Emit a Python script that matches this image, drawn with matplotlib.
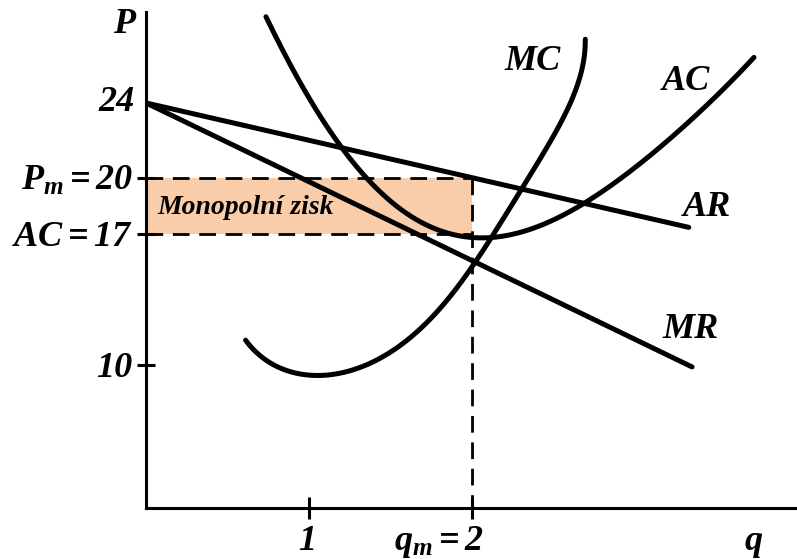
import numpy as np
import matplotlib
matplotlib.use("Agg")
import matplotlib.pyplot as plt
import matplotlib.transforms as mtransforms

plt.rcParams['font.family'] = ['Liberation Serif', 'DejaVu Serif']
plt.rcParams['font.style'] = 'italic'
plt.rcParams['font.weight'] = 'bold'
plt.rcParams['mathtext.fontset'] = 'custom'
plt.rcParams['mathtext.rm'] = 'Liberation Serif:italic:bold'
plt.rcParams['mathtext.it'] = 'Liberation Serif:italic:bold'
plt.rcParams['mathtext.bf'] = 'Liberation Serif:italic:bold'

# --- data ---
ar_q = [0.0, 3.33]
ar_p = [24.0, 17.35]

mr_q = [0.0, 3.35]
mr_p = [24.0, 9.89]

mc_q = [0.613, 0.712, 0.816, 0.920, 1.061, 1.227, 1.368, 1.534, 1.693, 1.840,
        2.0, 2.104, 2.209, 2.307, 2.411, 2.515, 2.595, 2.656, 2.699]
mc_p = [11.23, 10.53, 9.89, 9.57, 9.40, 9.57, 10.0, 10.80, 12.03, 13.47,
        15.45, 16.68, 17.91, 19.35, 20.79, 22.40, 24.0, 25.39, 27.37]

ac_q = [0.736, 0.834, 0.939, 1.043, 1.141, 1.227, 1.350, 1.491, 1.632, 1.963,
        2.135, 2.368, 2.534, 2.718, 2.945, 3.147, 3.350, 3.558, 3.730]
ac_p = [28.60, 26.83, 25.23, 23.63, 22.40, 21.49, 20.04, 18.66, 17.59, 17.05,
        16.95, 17.32, 17.91, 18.66, 20.04, 21.65, 23.25, 24.86, 26.41]

q_m = 2
p_m = 20
ac_m = 17
y_ticks = [10, 17, 20]
y_tick_labels = ["10", "$AC = 17$", "$P_m = 20$"]
x_ticks = [1, 2]


def smooth_param(xs, ys, deg=5, n=300):
    # smooth parametric fit through the read points (chord-length parameter)
    xs, ys = np.asarray(xs), np.asarray(ys)
    d = np.hypot(np.diff(xs) * 163, np.diff(ys) * 18.7)
    t = np.concatenate([[0], np.cumsum(d)])
    t = t / t[-1]
    tt = np.linspace(0, 1, n)
    return np.polyval(np.polyfit(t, xs, deg), tt), np.polyval(np.polyfit(t, ys, deg), tt)


def smooth_fn(xs, ys, deg=5, n=300):
    xx = np.linspace(xs[0], xs[-1], n)
    return xx, np.polyval(np.polyfit(xs, ys, deg), xx)


fig = plt.figure(figsize=(7.97, 5.59), dpi=100)
ax = fig.add_axes([146 / 797, 51 / 559, 651 / 797, 496 / 559])
ax.set_xlim(0, 3.994)
ax.set_ylim(2.35, 28.86)

for s in ["top", "right"]:
    ax.spines[s].set_visible(False)
for s in ["left", "bottom"]:
    ax.spines[s].set_linewidth(2.2)

# monopoly profit rectangle
ax.fill_between([0, q_m], ac_m, p_m, color="#F9CDAA", lw=0, zorder=1)

dash = dict(color="black", lw=2.0, dashes=(6, 3.5), zorder=2)
ax.plot([0, q_m], [p_m, p_m], **dash)
ax.plot([0, q_m], [ac_m, ac_m], **dash)
ax.plot([q_m, q_m], [p_m, 2.35], **dash, clip_on=False)

lw = 3.6
ax.plot(ar_q, ar_p, color="black", lw=lw, solid_capstyle="round", zorder=3)
ax.plot(mr_q, mr_p, color="black", lw=lw, solid_capstyle="round", zorder=3)
x, y = smooth_param(mc_q, mc_p)
ax.plot(x, y, color="black", lw=lw, solid_capstyle="round", zorder=3, clip_on=False)
x, y = smooth_fn(ac_q, ac_p)
ax.plot(x, y, color="black", lw=lw, solid_capstyle="round", zorder=3, clip_on=False)

# ticks
ax.set_yticks(y_ticks)
ax.set_yticklabels(y_tick_labels)
ax.set_xticks(x_ticks)
ax.set_xticklabels([])
ax.tick_params(axis="y", direction="inout", length=13, width=2.2, pad=3, labelsize=26)
ax.tick_params(axis="x", direction="inout", length=16, width=2.2)

fs = 26
ax.text(-0.07, 24, "24", ha="right", va="center", fontsize=fs, clip_on=False)
ax.text(-0.135, 28.17, "P", ha="center", va="center", fontsize=fs, clip_on=False)

trans = mtransforms.blended_transform_factory(ax.transData, ax.transAxes)
ax.text(0.988, -0.068, "1", ha="center", va="center", fontsize=fs, transform=trans)
ax.text(2.07, -0.068, "$q_m = 2$", ha="right", va="center", fontsize=fs, transform=trans)
ax.text(3.73, -0.068, "q", ha="center", va="center", fontsize=fs, transform=trans)

ax.text(2.37, 26.2, "MC", ha="center", va="center", fontsize=fs)
ax.text(3.31, 25.13, "AC", ha="center", va="center", fontsize=fs)
ax.text(3.44, 18.39, "AR", ha="center", va="center", fontsize=fs)
ax.text(3.34, 11.87, "MR", ha="center", va="center", fontsize=fs)
ax.text(0.067, 18.4, "Monopolní zisk", ha="left", va="center", fontsize=20, zorder=4)

fig.savefig("out.png", dpi=100)
